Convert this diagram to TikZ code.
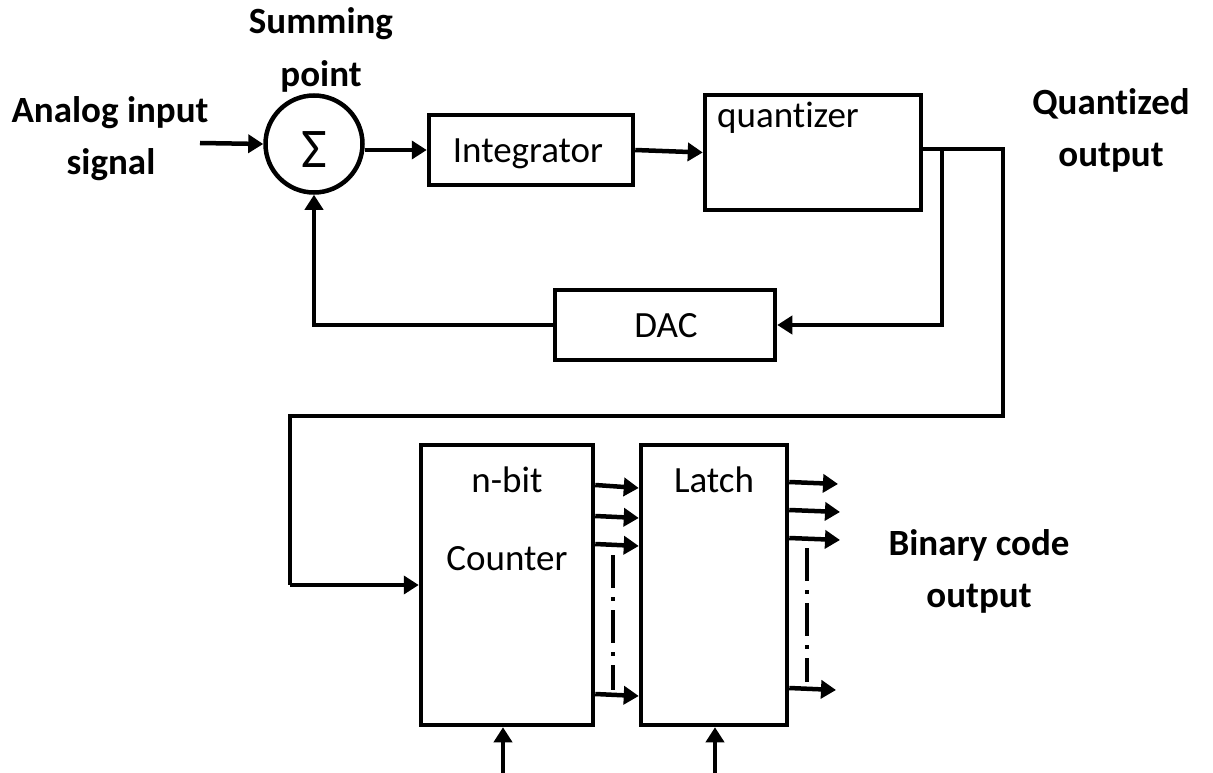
\documentclass[tikz,border=0pt]{standalone}
\usepackage{fontspec}
\setmainfont{Carlito}[Ligatures=NoCommon]
\usetikzlibrary{arrows.meta}
\begin{document}
\begin{tikzpicture}[x=1pt,y=-1pt,
  box/.style={draw,line width=4.5pt,inner sep=0pt},
  arr/.style={line width=4.5pt,-{Triangle[length=15pt,width=18pt]}},
  wire/.style={line width=4.5pt},
  lbl/.style={font=\fontsize{37}{40}\selectfont\bfseries,anchor=base,inner sep=0pt},
  txt/.style={font=\fontsize{37}{40}\selectfont,anchor=base,inner sep=0pt},
  dd/.style={line width=4.5pt,dash pattern=on 33pt off 9pt on 4pt off 9pt}]
\useasboundingbox (0,0) rectangle (1213,773);
% blocks
\node[box,circle,minimum size=97pt] (sum) at (314,144) {};
\node[font=\fontsize{56}{56}\selectfont,inner sep=0pt] (sigma) at (314,150) {Σ};
\node[box,minimum width=204pt,minimum height=70pt] (int) at (531,150) {};
\node[box,minimum width=216pt,minimum height=115pt] (quant) at (813,152.5) {};
\node[box,minimum width=220pt,minimum height=70pt] (dac) at (665,325) {};
\node[box,minimum width=172pt,minimum height=280pt] (cnt) at (507,585) {};
\node[box,minimum width=146pt,minimum height=280pt] (lat) at (714,585) {};
% block texts
\node[txt] (inttxt) at (528,163) {Integrator};
\node[txt,anchor=base west] (qtxt) at (717,128) {quantizer};
\node[txt] (dactxt) at (666,337) {DAC};
\node[txt] (cnt1) at (507,492) {n-bit};
\node[txt] (cnt2) at (507,570) {Counter};
\node[txt] (lattxt) at (714,492) {Latch};
% labels
\node[lbl] (sl1) at (321,34) {Summing};
\node[lbl] (sl2) at (321,87) {point};
\node[lbl] (al1) at (110,123) {Analog input};
\node[lbl] (al2) at (111,175) {signal};
\node[lbl] (ql1) at (1111,115) {Quantized};
\node[lbl] (ql2) at (1111,167) {output};
\node[lbl] (bl1) at (979,555) {Binary code};
\node[lbl] (bl2) at (979,607) {output};
% connectors
\coordinate (ain) at (200,143);
\draw[arr] (ain) -- (sum.west);
\draw[arr] (sum.east |- int.west) -- (int.west);
\draw[arr] (int.east) -- (quant.west);
\draw[wire] (quant.east |- 0,149) -- (1003,149) -- (1003,416) -- (290,416) -- (290,585);
\draw[arr] (290,585) -- (cnt.west);
\draw[arr] (942,149) -- (942,325) -- (dac.east);
\draw[arr] (dac.west) -| (sum.south);
% counter -> latch
\draw[arr] (cnt.east |- 0,485) -- (lat.west |- 0,488);
\draw[arr] (cnt.east |- 0,516) -- (lat.west |- 0,518);
\draw[arr] (cnt.east |- 0,544) -- (lat.west |- 0,546);
\draw[arr] (cnt.east |- 0,694) -- (lat.west |- 0,696);
\draw[dd] (613,555) -- (613,690);
% latch outputs
\coordinate (o1) at (838,484);
\coordinate (o2) at (840,512);
\coordinate (o3) at (840,540);
\coordinate (o4) at (836,690);
\draw[arr] (lat.east |- 0,482) -- (o1);
\draw[arr] (lat.east |- 0,510) -- (o2);
\draw[arr] (lat.east |- 0,538) -- (o3);
\draw[arr] (lat.east |- 0,688) -- (o4);
\draw[dd] (807,548) -- (807,682);
% clock inputs
\coordinate (c1) at (503,773);
\coordinate (c2) at (715,773);
\draw[arr] (c1) -- (c1 |- cnt.south);
\draw[arr] (c2) -- (c2 |- lat.south);
\end{tikzpicture}
\end{document}
